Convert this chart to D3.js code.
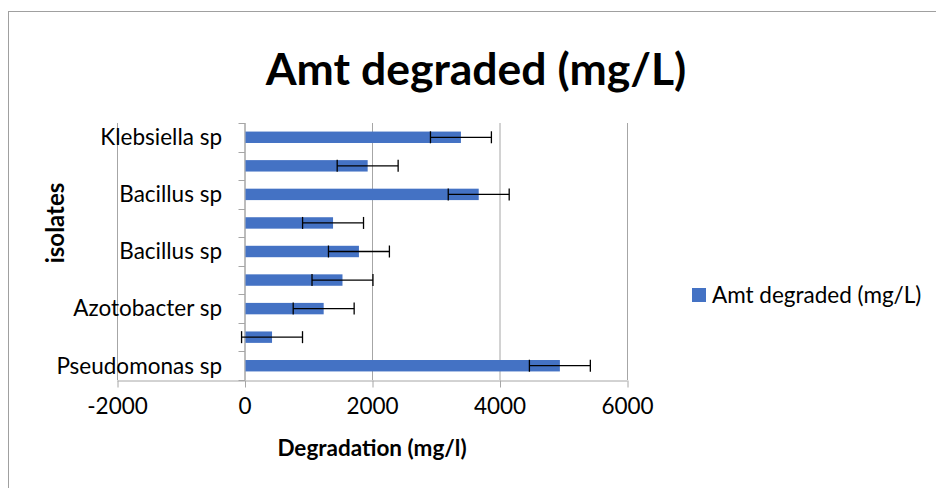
<!DOCTYPE html>
<html>
<head>
<meta charset="utf-8">
<script src="https://cdn.jsdelivr.net/npm/d3@7"></script>
<style>
  body { margin: 0; background: #fff; }
  svg { display: block; font-family: Lato, "Open Sans", sans-serif; }
</style>
</head>
<body>
<svg id="chart" width="936" height="488"></svg>
<script>
// isolates from bottom to top; Excel skipped every other label
const isolates = ['Pseudomonas sp', '', 'Azotobacter sp', '', 'Bacillus sp', '', 'Bacillus sp', '', 'Klebsiella sp']
const degraded = [4947, 432, 1242, 1537, 1795, 1389, 3674, 1932, 3395]
const errors = [478, 478, 478, 478, 478, 478, 478, 478, 478]
const xTicks = [-2000, 0, 2000, 4000, 6000]

const svg = d3.select('#chart')
const plot = { left: 117, right: 627, top: 123, bottom: 380 }
const barColor = '#4472c4'
const gridColor = '#a6a6a6'

svg.append('rect')
  .attr('x', 8.5).attr('y', 11.5)
  .attr('width', 940).attr('height', 490)
  .attr('fill', '#fff')
  .attr('stroke', '#a0a0a0')

const x = d3.scaleLinear()
  .domain([-2000, 6000])
  .range([plot.left, plot.right])

const y = d3.scaleBand()
  .domain(d3.range(isolates.length))
  .range([plot.bottom, plot.top])
  .paddingInner(0.6)
  .paddingOuter(0.3)

// vertical gridlines
svg.append('g')
  .selectAll('line')
  .data(xTicks)
  .enter()
  .append('line')
  .attr('x1', d => x(d) + 0.5).attr('x2', d => x(d) + 0.5)
  .attr('y1', plot.top).attr('y2', plot.bottom)
  .attr('stroke', gridColor)

// bottom value axis
const xAxis = svg.append('g')
  .attr('transform', `translate(0, ${plot.bottom + 0.5})`)
  .call(d3.axisBottom(x).tickValues(xTicks).tickFormat(d => String(d)).tickSize(7).tickPadding(11).tickSizeOuter(0))
xAxis.select('.domain').attr('stroke', gridColor)
xAxis.selectAll('.tick line').attr('stroke', gridColor).attr('transform', 'translate(0.5,0)')
xAxis.selectAll('.tick text')
  .attr('font-family', 'Lato, sans-serif')
  .attr('font-size', 22.5)
  .attr('fill', '#000')

// category axis sits at x = 0, ticks on category boundaries
const step = y.step()
const boundaries = d3.range(isolates.length + 1).map(i => plot.bottom - i * step)
const catAxis = svg.append('g')
catAxis.append('line')
  .attr('x1', x(0) + 0.5).attr('x2', x(0) + 0.5)
  .attr('y1', plot.top).attr('y2', plot.bottom)
  .attr('stroke', gridColor)
catAxis.selectAll('line.tick')
  .data(boundaries)
  .enter()
  .append('line')
  .attr('class', 'tick')
  .attr('x1', x(0) - 6).attr('x2', x(0) + 0.5)
  .attr('y1', d => Math.round(d) + 0.5).attr('y2', d => Math.round(d) + 0.5)
  .attr('stroke', gridColor)

svg.append('g')
  .selectAll('text')
  .data(isolates)
  .enter()
  .append('text')
  .attr('x', 222)
  .attr('y', (d, i) => y(i) + y.bandwidth() / 2)
  .attr('dy', '0.35em')
  .attr('text-anchor', 'end')
  .attr('font-size', 22.5)
  .text(d => d)

// bars
svg.append('g')
  .selectAll('rect')
  .data(degraded)
  .enter()
  .append('rect')
  .attr('x', x(0) + 1)
  .attr('y', (d, i) => y(i))
  .attr('width', d => x(d) - x(0) - 1)
  .attr('height', y.bandwidth())
  .attr('fill', barColor)

// error bars
const err = svg.append('g')
  .attr('stroke', '#000')
  .attr('stroke-width', 1.3)
  .selectAll('g')
  .data(degraded)
  .enter()
  .append('g')
  .attr('transform', (d, i) => `translate(0, ${y(i) + y.bandwidth() / 2})`)
err.append('line')
  .attr('x1', (d, i) => x(d - errors[i])).attr('x2', (d, i) => x(d + errors[i]))
err.append('line')
  .attr('x1', (d, i) => x(d - errors[i])).attr('x2', (d, i) => x(d - errors[i]))
  .attr('y1', -6).attr('y2', 6)
err.append('line')
  .attr('x1', (d, i) => x(d + errors[i])).attr('x2', (d, i) => x(d + errors[i]))
  .attr('y1', -6).attr('y2', 6)

// titles
svg.append('text')
  .attr('x', 476).attr('y', 85)
  .attr('text-anchor', 'middle')
  .attr('font-size', 44.5)
  .attr('font-weight', 'bold')
  .text('Amt degraded (mg/L)')

svg.append('text')
  .attr('x', 372).attr('y', 456)
  .attr('text-anchor', 'middle')
  .attr('font-size', 22.5)
  .attr('font-weight', 'bold')
  .text('Degradation (mg/l)')

svg.append('text')
  .attr('transform', 'translate(64, 223) rotate(-90)')
  .attr('text-anchor', 'middle')
  .attr('font-size', 24)
  .attr('font-weight', 'bold')
  .text('isolates')

// legend
const legend = svg.append('g').attr('transform', 'translate(692, 288)')
legend.append('rect')
  .attr('width', 14).attr('height', 14)
  .attr('fill', barColor)
legend.append('text')
  .attr('x', 20).attr('y', 7)
  .attr('dy', '0.35em')
  .attr('font-size', 22.5)
  .text('Amt degraded (mg/L)')
</script>
</body>
</html>
